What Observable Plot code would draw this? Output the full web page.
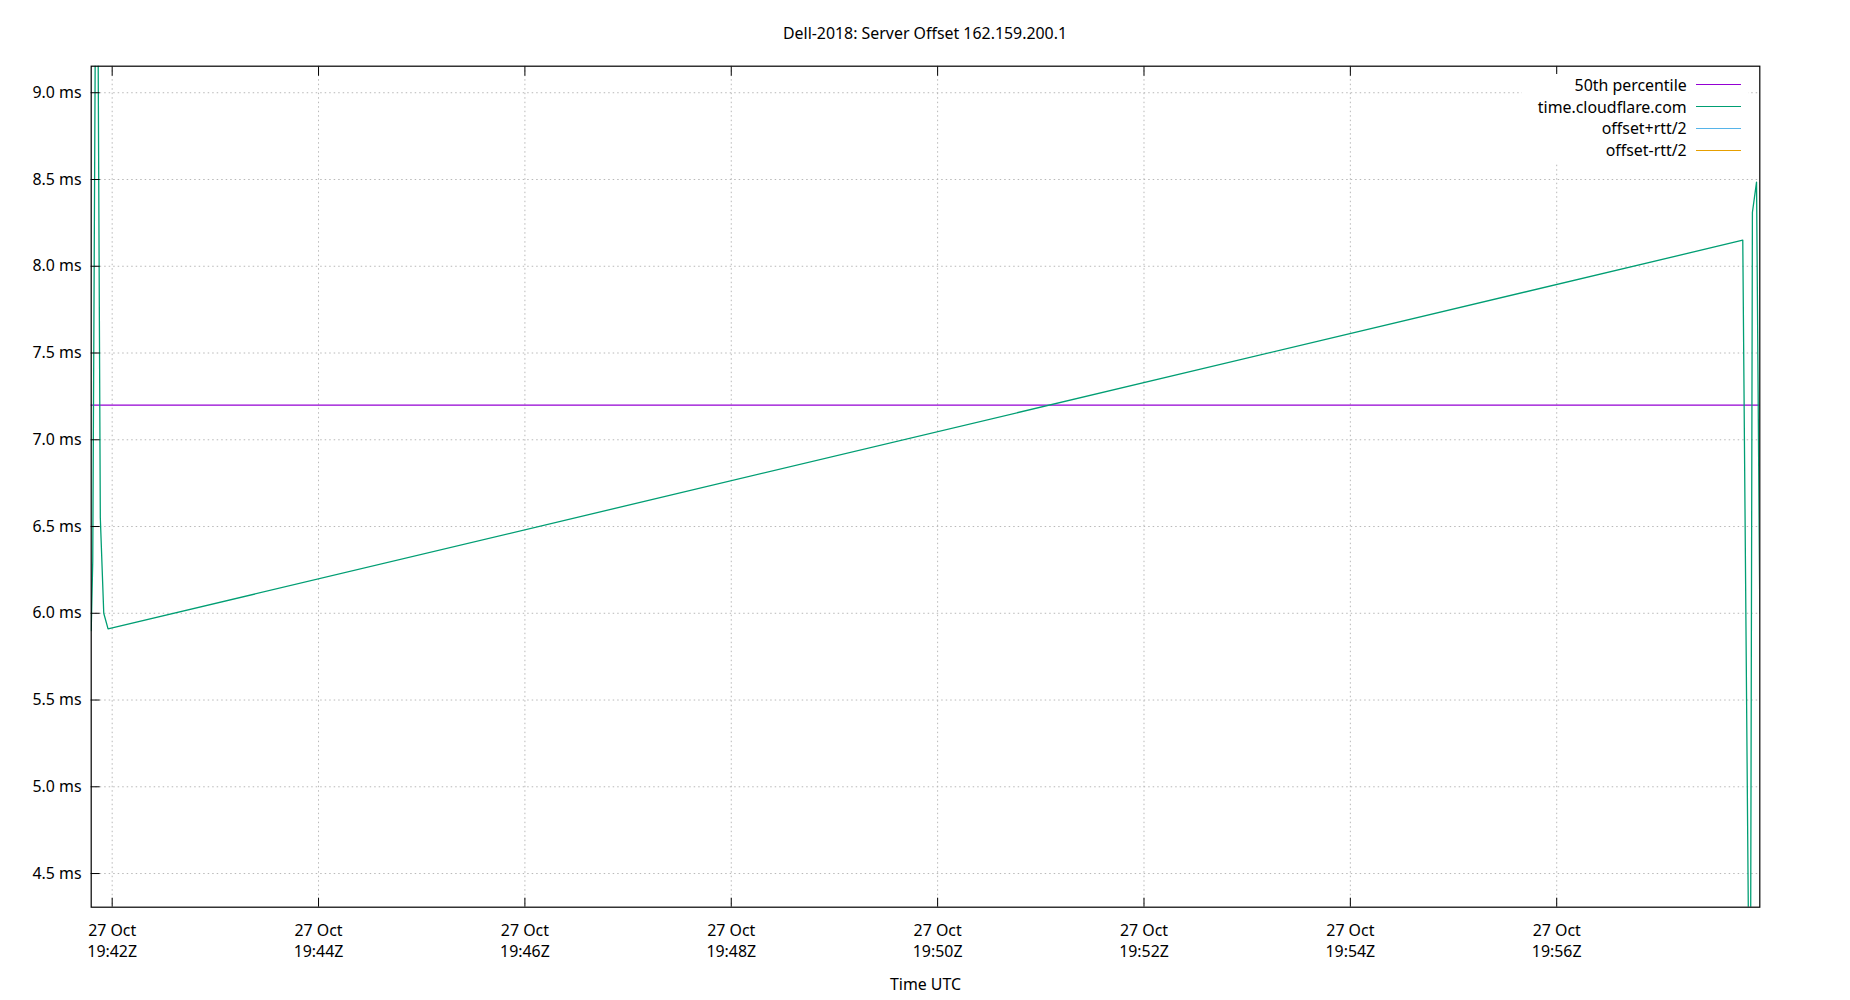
<!DOCTYPE html>
<html>
<head>
<meta charset="utf-8">
<script src="https://cdn.jsdelivr.net/npm/d3@7"></script>
<script src="https://cdn.jsdelivr.net/npm/@observablehq/plot@0.6"></script>
<style>
  body { margin: 0; background: #fff; font-family: "Noto Sans", sans-serif; }
  #wrap { position: relative; width: 1850px; height: 1000px; background: #fff; }
  #title { position: absolute; left: 0; top: 22px; width: 1850px; line-height: 22px; text-align: center; font-size: 15.9px; color: #000; }
  #chart { position: absolute; left: 0; top: 50px; }
  #legend { position: absolute; left: 1522px; top: 74px; width: 226px; height: 88px; background: #fff; }
  .lab { position: absolute; right: 61.3px; height: 22px; line-height: 22px; font-size: 15.9px; color: #000; white-space: nowrap; }
  .sw { position: absolute; left: 174px; width: 44.7px; height: 0; }
</style>
</head>
<body>
<div id="wrap">
  <div id="title"></div>
  <div id="chart"></div>
  <div id="legend"></div>
</div>
<script>
// ---- data ----
const titleText = "Dell-2018: Server Offset 162.159.200.1";
const xLabel = "Time UTC";
const sampleTimes = [
  "2023-10-27T19:41:47.800Z", "2023-10-27T19:41:48.700Z", "2023-10-27T19:41:51.000Z",
  "2023-10-27T19:41:53.100Z", "2023-10-27T19:41:55.100Z", "2023-10-27T19:41:57.600Z",
  "2023-10-27T19:57:48.200Z", "2023-10-27T19:57:52.500Z", "2023-10-27T19:57:53.800Z",
  "2023-10-27T19:57:56.200Z", "2023-10-27T19:57:58.100Z"
];
const offsetMs = [5.9, 6.3, 11.0, 6.55, 6.0, 5.91, 8.15, 3.0, 8.31, 8.485, 6.0];
const medianMs = 7.2;
const xTickTimes = [
  "2023-10-27T19:42:00Z", "2023-10-27T19:44:00Z", "2023-10-27T19:46:00Z", "2023-10-27T19:48:00Z",
  "2023-10-27T19:50:00Z", "2023-10-27T19:52:00Z", "2023-10-27T19:54:00Z", "2023-10-27T19:56:00Z"
];
const yTicks = [4.5, 5.0, 5.5, 6.0, 6.5, 7.0, 7.5, 8.0, 8.5, 9.0];
const yDomain = [4.306, 9.153];
const legendLabels = ["50th percentile", "time.cloudflare.com", "offset+rtt/2", "offset-rtt/2"];
const legendColors = ["#9400d3", "#009e73", "#56b4e9", "#e69f00"];

// ---- build ----
document.getElementById("title").textContent = titleText;

const data = sampleTimes.map((t, i) => ({ time: new Date(t), value: offsetMs[i] }));
const xTicks = xTickTimes.map(t => new Date(t));
const fmtX = d3.utcFormat("%-d %b\n%H:%MZ");
const gridStyle = { stroke: "#b8b8b8", strokeOpacity: 1, strokeWidth: 1, strokeDasharray: "1.5,3" };

const plot = Plot.plot({
  width: 1850,
  height: 950,
  marginTop: 15.7,
  marginBottom: 93.3,
  marginLeft: 90.7,
  marginRight: 90.7,
  style: { fontFamily: '"Noto Sans", sans-serif', fontSize: "15.9px", color: "#000", background: "#fff", overflow: "visible" },
  x: { type: "utc", domain: d3.extent(data, d => d.time) },
  y: { domain: yDomain },
  marks: [
    Plot.gridX(xTicks, gridStyle),
    Plot.gridY(yTicks, gridStyle),
    Plot.ruleY([medianMs], { stroke: legendColors[0], strokeWidth: 1.3 }),
    Plot.line(data, { x: "time", y: "value", stroke: legendColors[1], strokeWidth: 1.3, clip: true }),
    Plot.axisX(xTicks, { anchor: "bottom", tickSize: -9, tickPadding: 22.5, tickFormat: fmtX, label: null, lineHeight: 1.32 }),
    Plot.axisX(xTicks, { anchor: "top", tickSize: -9, tickFormat: () => "", label: null }),
    Plot.axisY(yTicks, { anchor: "left", tickSize: -9, tickPadding: 18.7, tickFormat: d => d.toFixed(1) + " ms", label: null }),
    Plot.frame({ stroke: "#000", strokeWidth: 1.2 }),
    Plot.text([xLabel], { text: d => d, frameAnchor: "bottom", dy: 77.8, lineAnchor: "middle", fill: "#000" })
  ]
});
document.getElementById("chart").appendChild(plot);

// legend (opaque key box inside the frame, top-right)
const legend = document.getElementById("legend");
legendLabels.forEach((lab, i) => {
  const cy = 11 + i * 21.7;
  const t = document.createElement("div");
  t.className = "lab";
  t.style.top = (cy - 11) + "px";
  t.textContent = lab;
  legend.appendChild(t);
  const s = document.createElement("div");
  s.className = "sw";
  s.style.top = (cy - 0.6) + "px";
  s.style.borderTop = "1.3px solid " + legendColors[i];
  legend.appendChild(s);
});
</script>
</body>
</html>
